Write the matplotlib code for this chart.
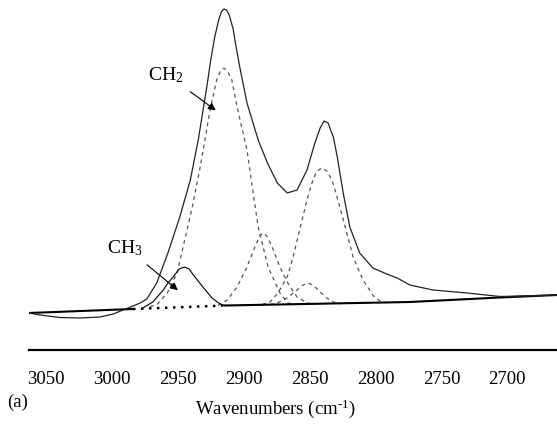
import numpy as np
import matplotlib
matplotlib.use("Agg")
import matplotlib.pyplot as plt

plt.rcParams['font.family'] = ['Liberation Serif', 'DejaVu Serif']
plt.rcParams['mathtext.fontset'] = 'custom'
plt.rcParams['mathtext.rm'] = 'Liberation Serif'
plt.rcParams['mathtext.it'] = 'Liberation Serif:italic'

wn_total = [3063, 3054.5, 3039.5, 3024, 3009, 2999, 2991.5, 2984, 2978.5, 2973.5,
            2966, 2957.5, 2948.5, 2940.5, 2934.5, 2928, 2925, 2922, 2919, 2917,
            2915, 2913, 2911, 2908, 2906, 2903, 2897.5, 2889, 2882, 2874.5,
            2867, 2859.5, 2852, 2846, 2842, 2839, 2836, 2832, 2829, 2824.5,
            2819.5, 2812, 2802, 2791.5, 2783.5, 2774, 2756.5, 2730.5, 2705.5, 2662]
abs_total = [0.37, 0.35, 0.325, 0.32, 0.33, 0.36, 0.40, 0.44, 0.47, 0.51,
             0.67, 0.97, 1.33, 1.70, 2.10, 2.63, 2.90, 3.13, 3.30, 3.38,
             3.41, 3.40, 3.35, 3.21, 3.05, 2.83, 2.47, 2.10, 1.87, 1.67,
             1.57, 1.60, 1.80, 2.07, 2.22, 2.29, 2.27, 2.13, 1.93, 1.57,
             1.23, 0.97, 0.82, 0.76, 0.72, 0.65, 0.60, 0.57, 0.535, 0.55]

# baseline
wn_base = [3063, 2984, 2914, 2774, 2705.5, 2662]
abs_base = [0.37, 0.41, 0.445, 0.48, 0.525, 0.55]

# fitted bands
wn_ch2a = [2971, 2966, 2958, 2950.5, 2946, 2939, 2933, 2925.5, 2920.5, 2918, 2915,
           2912, 2909, 2904.5, 2897.5, 2893.5, 2889, 2881.5, 2872.5, 2866.5, 2861]
abs_ch2a = [0.435, 0.45, 0.57, 0.77, 1.03, 1.43, 1.83, 2.40, 2.70, 2.78, 2.82,
            2.78, 2.70, 2.40, 2.00, 1.63, 1.23, 0.83, 0.57, 0.47, 0.455]

wn_2900 = [2919.5, 2912.5, 2905, 2897.5, 2891.5, 2887.5, 2884.5, 2881.5, 2877.5,
           2872.5, 2867, 2859.5, 2852, 2846]
abs_2900 = [0.445, 0.50, 0.63, 0.83, 1.03, 1.15, 1.17, 1.12, 1.00,
            0.83, 0.68, 0.53, 0.47, 0.46]

wn_ch2s = [2886, 2880, 2874, 2867, 2862.5, 2857, 2852, 2847.5, 2844.5, 2840.5,
           2837, 2833, 2828.5, 2823, 2817, 2809.5, 2800.5, 2795, 2789]
abs_ch2s = [0.455, 0.48, 0.57, 0.73, 0.93, 1.23, 1.50, 1.70, 1.79, 1.82,
            1.79, 1.70, 1.50, 1.23, 0.93, 0.70, 0.52, 0.48, 0.47]

wn_2855 = [2880, 2874.5, 2867, 2859.5, 2855, 2851, 2847.5, 2843.5, 2837, 2832, 2827]
abs_2855 = [0.455, 0.47, 0.52, 0.60, 0.65, 0.67, 0.65, 0.60, 0.52, 0.48, 0.46]

wn_ch3 = [2976.5, 2969, 2961, 2957.5, 2953.5, 2949, 2945, 2941.5, 2937, 2931,
          2924, 2918, 2914]
abs_ch3 = [0.42, 0.48, 0.60, 0.67, 0.73, 0.81, 0.83, 0.81, 0.73, 0.63,
           0.52, 0.46, 0.445]

xticks = [3050, 3000, 2950, 2900, 2850, 2800, 2750, 2700]

fig = plt.figure(figsize=(5.57, 4.28), dpi=100)
ax = fig.add_axes([29 / 557, 78 / 428, 528 / 557, 350 / 428])

dash_gray = '#555555'
for w, a in [(wn_ch2a, abs_ch2a), (wn_2900, abs_2900), (wn_ch2s, abs_ch2s), (wn_2855, abs_2855)]:
    ax.plot(w, a, color=dash_gray, lw=0.9, linestyle=(0, (3, 3)))

ax.plot(wn_ch3, abs_ch3, color='black', lw=0.8, solid_joinstyle='round')

# baseline: solid, dotted under the CH3 band, solid again
ax.plot(wn_base[:2], abs_base[:2], color='black', lw=1.5)
ax.plot(wn_base[1:3], abs_base[1:3], color='black', lw=1.8, linestyle=(0, (1, 2.2)))
ax.plot(wn_base[2:], abs_base[2:], color='black', lw=1.5)

ax.plot(wn_total, abs_total, color='#222222', lw=0.9, solid_joinstyle='round')

ax.annotate('', xy=(2919.5, 2.38), xytext=(2942.3, 2.60),
            arrowprops=dict(arrowstyle='-|>', color='black', lw=0.8, mutation_scale=11))
ax.annotate('', xy=(2948.3, 0.58), xytext=(2975, 0.87),
            arrowprops=dict(arrowstyle='-|>', color='black', lw=0.8, mutation_scale=11))
ax.text(2972.6, 2.70, r'CH$_{\mathregular{2}}$', fontsize=14, ha='left', va='baseline')
ax.text(3003.7, 0.97, r'CH$_{\mathregular{3}}$', fontsize=14, ha='left', va='baseline')

ax.set_xlim(3062.9, 2662.3)
ax.set_ylim(0, 3.5)
ax.set_xticks(xticks)
ax.set_xticklabels([str(t) for t in xticks])
ax.set_yticks([])
ax.tick_params(axis='x', length=0, pad=15, labelsize=13.5)
for s in ['top', 'left', 'right']:
    ax.spines[s].set_visible(False)
ax.spines['bottom'].set_linewidth(1.6)

fig.text(276 / 557, 1 - 409 / 428, r'Wavenumbers (cm$^{\text{-1}}$)', fontsize=13.5,
         ha='center', va='center')
fig.text(7 / 557, 1 - 402 / 428, '(a)', fontsize=13.5, ha='left', va='center')

fig.savefig('out.png', dpi=100)
